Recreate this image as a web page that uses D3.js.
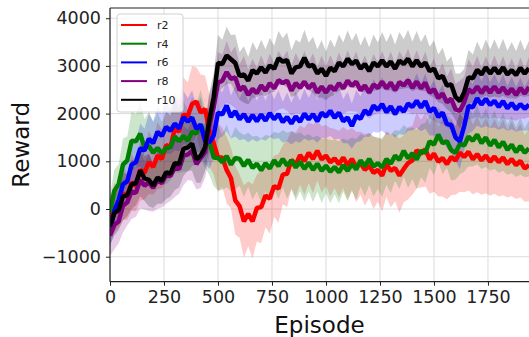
<!DOCTYPE html>
<html>
<head>
<meta charset="utf-8">
<script src="https://cdn.jsdelivr.net/npm/d3@7"></script>
<style>
  body { margin: 0; background: #fff; }
  text { font-family: "DejaVu Sans", sans-serif; }
</style>
</head>
<body>
<div class="chart"></div>
<script>
// episodes sampled every 20 steps
var episodes = d3.range(0, 1941, 20);

var names = ["r2", "r4", "r6", "r8", "r10"];
var colors = ["#ff0000", "#008000", "#0000ff", "#800080", "#000000"];

var r2 = [-150, 20, 60, 330, 260, 560, 480, 820, 760, 980,
  880, 1120, 1050, 1340, 1300, 1680, 1620, 1980, 1950, 2200,
  2250, 2020, 2100, 1650, 1380, 1080, 1080, 820, 650, 180,
  60, -260, -100, -260, 20, 40, 280, 220, 480, 430,
  720, 740, 1030, 930, 1130, 1000, 1180, 1050, 1220, 1040,
  1120, 980, 1060, 940, 1080, 920, 1050, 880, 960, 820,
  910, 760, 820, 700, 940, 800, 860, 700, 840, 960,
  1020, 1230, 1160, 1250, 1040, 1160, 990, 1070, 940, 1090,
  1020, 1180, 1090, 1200, 1040, 1150, 1020, 1120, 990, 1100,
  980, 1080, 940, 1050, 920, 1010, 850, 920];
var r4 = [-60, 380, 520, 930, 1020, 1430, 1420, 1580, 1280, 1320,
  1180, 1280, 1170, 1280, 1290, 1520, 1420, 1530, 1430, 1620,
  1580, 1780, 1480, 1420, 1080, 1070, 980, 1110, 930, 1070,
  1050, 900, 1030, 860, 950, 810, 960, 850, 1020, 900,
  1050, 910, 1020, 870, 990, 840, 970, 820, 950, 800,
  910, 780, 880, 770, 920, 800, 940, 830, 1020, 900,
  1050, 890, 960, 870, 1050, 950, 1120, 1030, 1220, 1060,
  1170, 1040, 1220, 1180, 1420, 1350, 1560, 1380, 1420, 1230,
  1180, 1370, 1330, 1520, 1430, 1560, 1380, 1500, 1330, 1450,
  1290, 1410, 1240, 1350, 1190, 1320, 1180, 1270];
var r6 = [-450, -40, 180, 520, 580, 930, 980, 1270, 1230, 1470,
  1380, 1620, 1530, 1720, 1640, 1790, 1690, 1920, 1830, 1920,
  1680, 1770, 1430, 1400, 1540, 2020, 1980, 2170, 1930, 2050,
  1880, 1990, 1830, 1970, 1840, 1980, 1850, 2010, 1880, 1990,
  1820, 1930, 1790, 1940, 1830, 2000, 1880, 1990, 1840, 2020,
  1940, 2060, 1910, 2020, 1840, 1920, 1740, 1950, 1890, 2070,
  1980, 2170, 2080, 2200, 2030, 2150, 1990, 2140, 2040, 2210,
  2140, 2270, 2130, 2260, 2040, 2120, 1930, 2020, 1780, 1760,
  1500, 1420, 1740, 2160, 2130, 2320, 2190, 2310, 2180, 2270,
  2140, 2260, 2110, 2220, 2090, 2200, 2100, 2190];
var r8 = [-560, -330, -260, 70, 140, 370, 340, 610, 490, 560,
  440, 610, 540, 720, 690, 870, 840, 1120, 1140, 1220,
  940, 1070, 1190, 1760, 2140, 2650, 2690, 2870, 2730, 2760,
  2490, 2570, 2390, 2520, 2430, 2590, 2480, 2640, 2530, 2700,
  2640, 2690, 2480, 2640, 2540, 2670, 2530, 2630, 2440, 2570,
  2440, 2580, 2490, 2640, 2530, 2690, 2580, 2670, 2490, 2590,
  2440, 2610, 2540, 2670, 2530, 2650, 2490, 2660, 2590, 2700,
  2540, 2670, 2530, 2650, 2440, 2510, 2330, 2420, 2240, 2310,
  2090, 2060, 2240, 2510, 2440, 2570, 2430, 2560, 2440, 2570,
  2440, 2550, 2410, 2520, 2390, 2540, 2420, 2560];
var r10 = [-360, -90, -20, 260, 290, 520, 540, 810, 640, 610,
  490, 660, 590, 770, 740, 960, 940, 1260, 1290, 1370,
  1040, 1120, 1290, 1870, 2340, 3060, 3040, 3220, 3140, 3060,
  2790, 2820, 2690, 2910, 2840, 2970, 2860, 3010, 2940, 3160,
  3090, 3120, 2840, 2970, 2990, 3170, 2990, 3020, 2840, 2940,
  2790, 2960, 2890, 3070, 2990, 3150, 3040, 3110, 2940, 3040,
  2890, 3070, 2990, 3120, 2990, 3090, 2940, 3110, 3040, 3150,
  2990, 3120, 2990, 3070, 2890, 2940, 2740, 2790, 2590, 2610,
  2350, 2260, 2450, 2760, 2740, 2920, 2820, 2970, 2840, 2960,
  2840, 2970, 2820, 2910, 2810, 2960, 2840, 2950];

// spread (std) of each run
var r2Std = [400, 520, 450, 560, 480, 600, 520, 640, 560, 660,
  580, 700, 620, 720, 650, 760, 680, 780, 700, 800,
  720, 800, 700, 760, 650, 720, 620, 700, 640, 720,
  660, 760, 680, 780, 700, 760, 660, 740, 640, 720,
  620, 700, 600, 680, 620, 700, 640, 720, 620, 700,
  640, 720, 620, 700, 640, 730, 650, 740, 660, 750,
  680, 760, 670, 750, 690, 770, 700, 780, 700, 760,
  720, 800, 710, 780, 720, 800, 730, 810, 740, 800,
  720, 820, 740, 810, 730, 800, 720, 790, 710, 780,
  720, 790, 700, 780, 710, 770, 700, 760];
var r4Std = [350, 450, 420, 550, 500, 620, 560, 680, 600, 720,
  640, 740, 660, 760, 680, 750, 660, 740, 650, 720,
  640, 720, 620, 700, 600, 680, 580, 660, 560, 650,
  560, 650, 570, 660, 580, 670, 590, 680, 600, 690,
  600, 690, 610, 700, 620, 690, 600, 680, 590, 670,
  580, 660, 570, 650, 560, 640, 560, 640, 550, 630,
  550, 630, 540, 620, 540, 620, 530, 610, 540, 620,
  540, 620, 550, 630, 560, 640, 570, 650, 560, 640,
  560, 640, 550, 630, 540, 620, 540, 620, 530, 610,
  530, 610, 520, 600, 520, 600, 510, 590];
var r6Std = [350, 440, 400, 480, 420, 500, 440, 520, 450, 530,
  460, 540, 470, 550, 480, 560, 480, 560, 490, 570,
  490, 570, 480, 560, 470, 550, 460, 540, 450, 530,
  440, 520, 430, 510, 430, 510, 420, 500, 420, 500,
  430, 510, 440, 520, 440, 520, 450, 530, 450, 530,
  450, 530, 460, 540, 460, 540, 470, 550, 470, 550,
  470, 550, 480, 560, 480, 560, 490, 570, 490, 570,
  490, 570, 500, 580, 500, 580, 510, 590, 510, 590,
  500, 580, 500, 580, 490, 570, 490, 570, 480, 560,
  480, 560, 470, 550, 470, 550, 460, 540];
var r8Std = [420, 520, 460, 560, 480, 580, 500, 600, 500, 600,
  500, 600, 510, 610, 520, 620, 520, 620, 530, 630,
  530, 630, 540, 640, 540, 640, 550, 650, 550, 650,
  540, 640, 530, 630, 530, 630, 520, 620, 520, 620,
  530, 630, 530, 630, 540, 640, 540, 640, 550, 650,
  550, 650, 540, 640, 540, 640, 530, 630, 530, 630,
  540, 640, 540, 640, 550, 650, 550, 650, 560, 660,
  560, 660, 550, 650, 550, 650, 540, 640, 540, 640,
  530, 630, 530, 630, 540, 640, 540, 640, 550, 650,
  550, 650, 540, 640, 540, 640, 530, 630];
var r10Std = [380, 470, 420, 500, 440, 520, 460, 540, 470, 550,
  470, 550, 480, 560, 480, 560, 490, 570, 490, 570,
  490, 570, 500, 580, 500, 590, 510, 600, 510, 600,
  500, 590, 500, 590, 490, 580, 490, 580, 480, 570,
  490, 580, 490, 580, 500, 590, 500, 590, 510, 600,
  510, 600, 500, 590, 500, 590, 490, 580, 490, 580,
  500, 590, 500, 590, 510, 600, 510, 600, 520, 610,
  520, 610, 510, 600, 510, 600, 500, 590, 500, 590,
  490, 580, 490, 580, 500, 590, 500, 590, 510, 600,
  510, 600, 500, 590, 500, 590, 490, 580];

var xTicks = [0, 250, 500, 750, 1000, 1250, 1500, 1750];
var yTicks = [-1000, 0, 1000, 2000, 3000, 4000];

var means = [r2, r4, r6, r8, r10];
var stds = [r2Std, r4Std, r6Std, r8Std, r10Std];

var w = 529, h = 337;
var pLeft = 110, pRight = 529, pTop = 8, pBottom = 281.7;

var svg = d3.select(".chart").append("svg")
  .attr("width", w)
  .attr("height", h)
  .style("display", "block");

var x = d3.scaleLinear().domain([0, 1940]).range([pLeft, pRight]);
var y = d3.scaleLinear().domain([-1524, 4214]).range([pBottom, pTop]);

svg.append("clipPath").attr("id", "plot")
  .append("rect").attr("x", pLeft).attr("y", pTop)
  .attr("width", pRight - pLeft).attr("height", pBottom - pTop);

// grid
var grid = svg.append("g");
grid.selectAll(".gx").data(xTicks).enter().append("line")
  .attr("x1", function(d) { return x(d); }).attr("x2", function(d) { return x(d); })
  .attr("y1", pTop).attr("y2", pBottom)
  .attr("stroke", "#dcdcdc").attr("stroke-width", 1);
grid.selectAll(".gy").data(yTicks).enter().append("line")
  .attr("x1", pLeft).attr("x2", pRight)
  .attr("y1", function(d) { return y(d); }).attr("y2", function(d) { return y(d); })
  .attr("stroke", "#dcdcdc").attr("stroke-width", 1);

var plot = svg.append("g").attr("clip-path", "url(#plot)");

var area = d3.area()
  .x(function(d, i) { return x(episodes[i]); })
  .y0(function(d) { return y(d[0] - d[1]); })
  .y1(function(d) { return y(d[0] + d[1]); });

var line = d3.line()
  .x(function(d, i) { return x(episodes[i]); })
  .y(function(d) { return y(d); });

// bands first, then lines
for (var s = 0; s < means.length; s++) {
  var pairs = means[s].map(function(v, i) { return [v, stds[s][i]]; });
  plot.append("path")
    .attr("d", area(pairs))
    .attr("fill", colors[s])
    .attr("fill-opacity", 0.2);
}
for (var s = 0; s < means.length; s++) {
  plot.append("path")
    .attr("d", line(means[s]))
    .attr("fill", "none")
    .attr("stroke", colors[s])
    .attr("stroke-width", 4.5)
    .attr("stroke-linejoin", "bevel");
}

// axes
var xAxis = svg.append("g").attr("transform", "translate(0," + pBottom + ")")
  .call(d3.axisBottom(x).tickValues(xTicks).tickSize(4).tickPadding(5).tickFormat(d3.format("d")));
var yAxis = svg.append("g").attr("transform", "translate(" + pLeft + ",0)")
  .call(d3.axisLeft(y).tickValues(yTicks).tickSize(4).tickPadding(5)
    .tickFormat(function(d) { return d < 0 ? "\u2212" + Math.abs(d) : d; }));
[xAxis, yAxis].forEach(function(a) {
  a.select(".domain").remove();
  a.selectAll("line").attr("stroke", "#222");
  a.selectAll("text").attr("fill", "#222").style("font-size", "17.5px")
    .style("font-family", "DejaVu Sans");
});

// spines
svg.append("line").attr("x1", pLeft).attr("x2", pLeft).attr("y1", pTop).attr("y2", pBottom)
  .attr("stroke", "#222").attr("stroke-width", 1.2);
svg.append("line").attr("x1", pLeft).attr("x2", pRight).attr("y1", pBottom).attr("y2", pBottom)
  .attr("stroke", "#222").attr("stroke-width", 1.2);
svg.append("line").attr("x1", pLeft).attr("x2", pRight).attr("y1", pTop).attr("y2", pTop)
  .attr("stroke", "#222").attr("stroke-width", 1.2);

// labels
svg.append("text")
  .attr("x", (pLeft + pRight) / 2).attr("y", 333)
  .attr("text-anchor", "middle")
  .style("font-size", "23px").attr("fill", "#111")
  .text("Episode");
svg.append("text")
  .attr("transform", "translate(29," + ((pTop + pBottom) / 2) + ") rotate(-90)")
  .attr("text-anchor", "middle")
  .style("font-size", "23px").attr("fill", "#111")
  .text("Reward");

// legend
var lg = svg.append("g").attr("transform", "translate(117,14)");
lg.append("rect").attr("width", 66).attr("height", 98).attr("rx", 3)
  .attr("fill", "#fff").attr("fill-opacity", 0.8)
  .attr("stroke", "#d0d0d0").attr("stroke-width", 1);
names.forEach(function(n, i) {
  var g = lg.append("g").attr("transform", "translate(0," + (11 + i * 18.7) + ")");
  g.append("line").attr("x1", 4).attr("x2", 30).attr("stroke", colors[i]).attr("stroke-width", 2);
  g.append("text").attr("x", 40).attr("y", 4).style("font-size", "11px").attr("fill", "#222").text(n);
});
</script>
</body>
</html>
